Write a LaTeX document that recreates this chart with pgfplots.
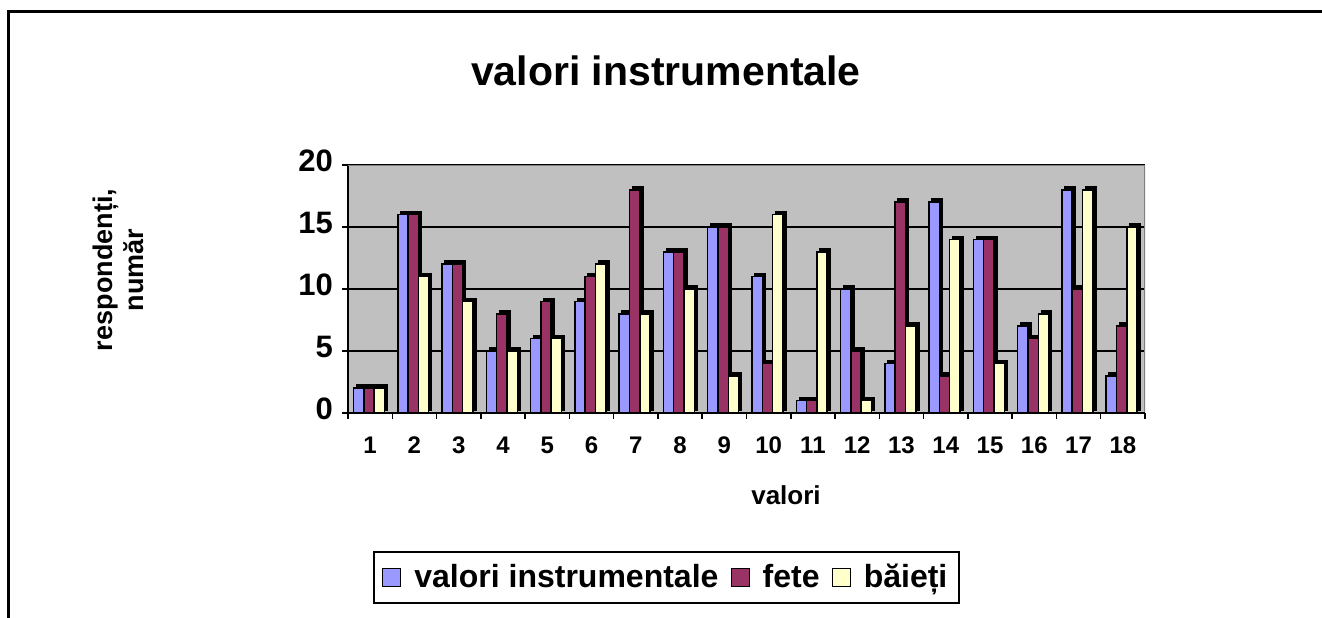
\documentclass[border=0pt]{standalone}
\usepackage{fontspec}
\setmainfont{Liberation Sans}
\usepackage{pgfplots}
\usepackage{pgfplotstable}
\pgfplotsset{compat=1.18}
\definecolor{cblue}{HTML}{9999FF}
\definecolor{cmaroon}{HTML}{993366}
\definecolor{cyellow}{HTML}{FFFFCC}
\definecolor{cgrey}{HTML}{C0C0C0}
\definecolor{cedge}{HTML}{808080}
\pgfplotstableread{
x a b c
1 2 2 2
2 16 16 11
3 12 12 9
4 5 8 5
5 6 9 6
6 9 11 12
7 8 18 8
8 13 13 10
9 15 15 3
10 11 4 16
11 1 1 13
12 10 5 1
13 4 17 7
14 17 3 14
15 14 14 4
16 7 6 8
17 18 10 18
18 3 7 15
}\datatable
\begin{document}
\begin{tikzpicture}
\path[use as bounding box] (0,0) rectangle (661pt,308.5pt);
\draw[line width=1.5pt] (4pt,-5pt) -- (4pt,302.5pt) -- (670pt,302.5pt);
\begin{axis}[
  at={(174pt,102pt)}, anchor=south west,
  width=398.5pt, height=124pt, scale only axis,
  xmin=0.5, xmax=18.5, ymin=0, ymax=20,
  axis lines=left,
  axis line style={-, line width=0.75pt, black},
  ytick={0,5,10,15,20},
  xtick={1,...,18},
  minor xtick={0.5,1.5,...,18.5},
  major x tick style={draw=none},
  minor x tick style={line width=0.75pt, black},
  y tick style={line width=0.75pt, black},
  tick align=outside,
  major tick length=3pt, minor tick length=3pt,
  ymajorgrids,
  grid style={black, line width=0.75pt},
  axis background/.style={fill=cgrey},
  /pgf/number format/assume math mode=true,
  typeset ticklabels with strut,
  xticklabel style={font=\bfseries\fontsize{12}{14}\selectfont, yshift=-4pt},
  yticklabel style={font=\bfseries\fontsize{15.5}{17}\selectfont, xshift=-1pt},
  ybar, bar width=0.233,
  legend columns=3,
  legend style={at={(0.40,-0.663)}, anchor=center, draw=black, line width=1pt, fill=white,
    font=\bfseries\fontsize{16}{19}\selectfont,
    /tikz/every even column/.append style={column sep=4pt},
    /tikz/every odd column/.append style={column sep=4.5pt},
    inner xsep=4pt, inner ysep=4pt},
  legend image code/.code={\draw[#1, draw=black, line width=0.6pt] (0pt,-4.5pt) rectangle (9pt,4.5pt);},
]
\addplot[fill=black, draw=black, line width=0.75pt, bar shift=-0.26, xshift=1.5pt, yshift=1.5pt, forget plot] table[x=x,y=a] {\datatable};
\addplot[fill=cblue, draw=black, line width=0.75pt, bar shift=-0.26] table[x=x,y=a] {\datatable};
\addplot[fill=black, draw=black, line width=0.75pt, bar shift=-0.027, xshift=1.5pt, yshift=1.5pt, forget plot] table[x=x,y=b] {\datatable};
\addplot[fill=cmaroon, draw=black, line width=0.75pt, bar shift=-0.027] table[x=x,y=b] {\datatable};
\addplot[fill=black, draw=black, line width=0.75pt, bar shift=0.206, xshift=1.5pt, yshift=1.5pt, forget plot] table[x=x,y=c] {\datatable};
\addplot[fill=cyellow, draw=black, line width=0.75pt, bar shift=0.206] table[x=x,y=c] {\datatable};
\legend{valori instrumentale, fete, băieți}
\draw[cedge, line width=0.75pt] (rel axis cs:0,1) -- (rel axis cs:1,1) -- (rel axis cs:1,0);
\draw[black, line width=0.75pt] (rel axis cs:0,0) -- (rel axis cs:1,0);
\end{axis}
\node[font=\bfseries\fontsize{20.5}{24}\selectfont] at (333pt,273pt) {valori instrumentale};
\node[rotate=90, align=center, font=\bfseries\fontsize{13.5}{15.5}\selectfont] at (59pt,173.5pt) {respondenți,\\număr};
\node[font=\bfseries\fontsize{13}{15}\selectfont] at (393pt,61pt) {valori};
\end{tikzpicture}
\end{document}
